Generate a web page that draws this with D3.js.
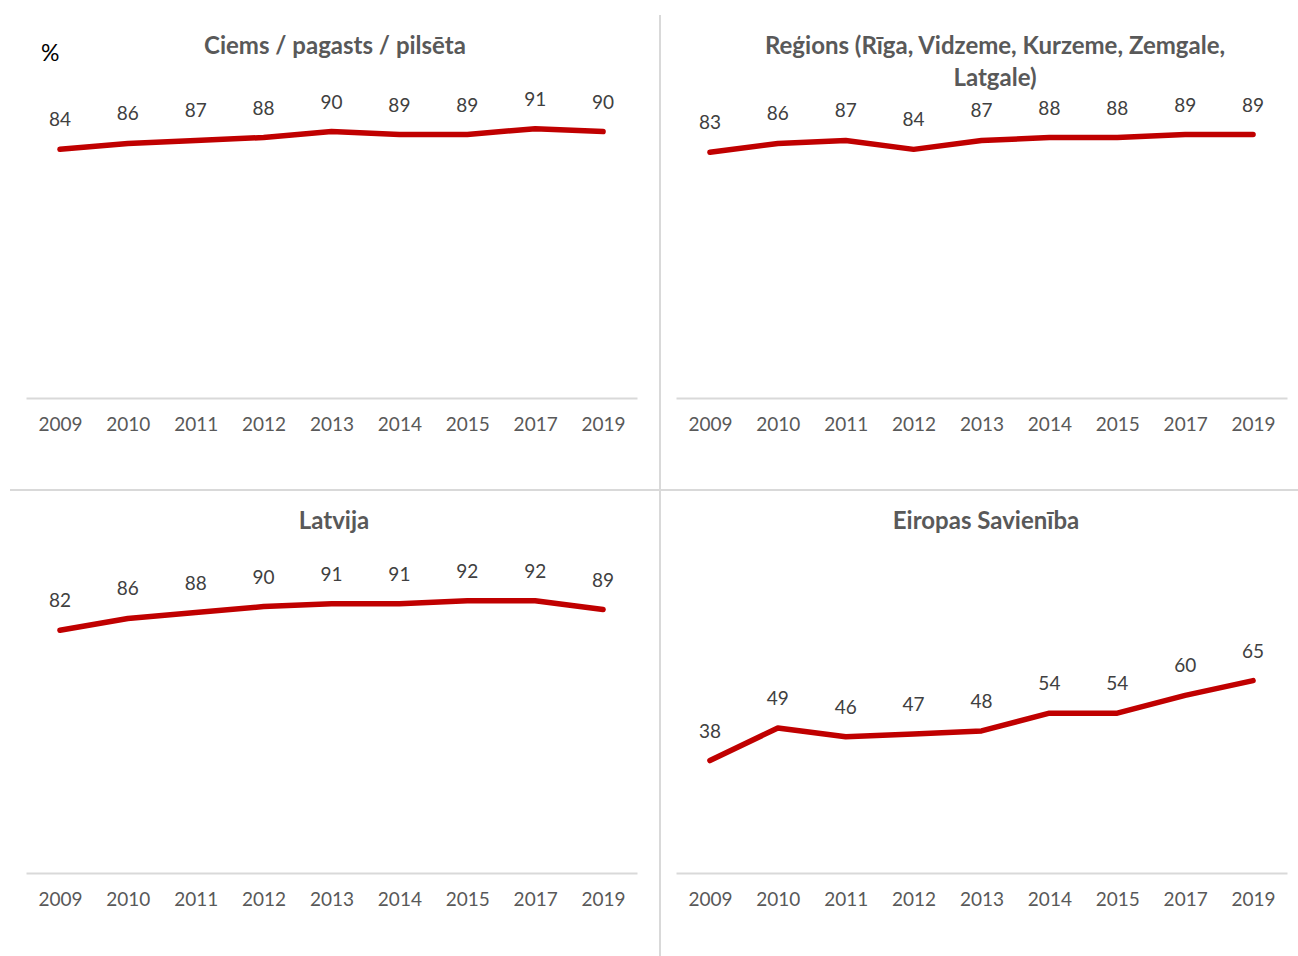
<!DOCTYPE html>
<html>
<head>
<meta charset="utf-8">
<script src="https://cdn.jsdelivr.net/npm/d3@7"></script>
<style>
    body { margin: 0; background: #fff; }
    svg { display: block; font-family: Lato, "Open Sans", sans-serif; }
    .axis path { stroke: #d9d9d9; stroke-width: 2; }
    .axis text { fill: #595959; font-size: 19px; font-family: Lato, sans-serif; }
    .title { fill: #595959; font-size: 24px; font-weight: bold; text-anchor: middle; }
    .label { fill: #404040; font-size: 19px; text-anchor: middle; }
</style>
</head>
<body>
<svg id="chart" width="1298" height="956"></svg>
<script>
const years = ["2009", "2010", "2011", "2012", "2013", "2014", "2015", "2017", "2019"];
const ciems = [84, 86, 87, 88, 90, 89, 89, 91, 90];
const regioni = [83, 86, 87, 84, 87, 88, 88, 89, 89];
const latvija = [82, 86, 88, 90, 91, 91, 92, 92, 89];
const es = [38, 49, 46, 47, 48, 54, 54, 60, 65];
const titles = [
    ["Ciems / pagasts / pilsēta"],
    ["Reģions (Rīga, Vidzeme, Kurzeme, Zemgale,", "Latgale)"],
    ["Latvija"],
    ["Eiropas Savienība"]
];

let svg = d3.select("#chart");

// dividers between the four charts
svg.append("line")
    .attr("x1", 660).attr("x2", 660)
    .attr("y1", 15).attr("y2", 956)
    .attr("stroke", "#d9d9d9").attr("stroke-width", 2);
svg.append("line")
    .attr("x1", 10).attr("x2", 1298)
    .attr("y1", 490).attr("y2", 490)
    .attr("stroke", "#d9d9d9").attr("stroke-width", 2);

svg.append("text")
    .attr("x", 41).attr("y", 61)
    .attr("font-size", 23)
    .attr("fill", "#000")
    .text("%");

let panels = [
    {values: ciems, title: titles[0], left: 26, right: 637, base: 398, titleX: 335, titleY: 54},
    {values: regioni, title: titles[1], left: 676, right: 1287, base: 398, titleX: 995, titleY: 54},
    {values: latvija, title: titles[2], left: 26, right: 637, base: 873, titleX: 334, titleY: 529},
    {values: es, title: titles[3], left: 676, right: 1287, base: 873, titleX: 986, titleY: 529}
];

panels.forEach(function (p) {
    let x = d3.scalePoint()
        .domain(years)
        .range([p.left, p.right])
        .padding(0.5);

    let y = d3.scaleLinear()
        .domain([0, 100])
        .range([p.base, p.base - 296]);

    let g = svg.append("g");

    g.append("g")
        .attr("class", "axis")
        .attr("transform", "translate(0," + p.base + ")")
        .call(d3.axisBottom(x).tickSize(0).tickPadding(20));

    p.title.forEach(function (t, i) {
        g.append("text")
            .attr("class", "title")
            .attr("x", p.titleX)
            .attr("y", p.titleY + i * 32)
            .text(t);
    });

    let line = d3.line()
        .x((d, i) => x(years[i]))
        .y(d => y(d));

    g.append("path")
        .datum(p.values)
        .attr("d", line)
        .attr("fill", "none")
        .attr("stroke", "#c00000")
        .attr("stroke-width", 5.5)
        .attr("stroke-linecap", "round")
        .attr("stroke-linejoin", "round");

    g.selectAll("text.label")
        .data(p.values)
        .enter().append("text")
        .attr("class", "label")
        .attr("x", (d, i) => x(years[i]))
        .attr("y", d => y(d) - 23)
        .text(d => d);
});
</script>
</body>
</html>
